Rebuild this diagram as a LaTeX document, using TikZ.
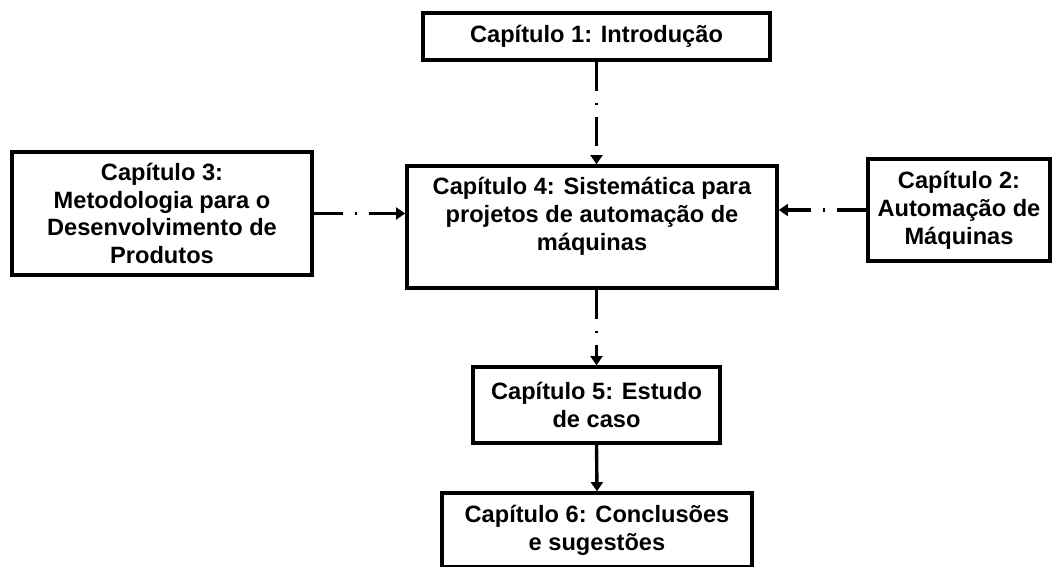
\documentclass[tikz,border=0pt]{standalone}
\usepackage{fontspec}
\setmainfont{Liberation Sans}
\usetikzlibrary{arrows.meta}

\tikzset{
  capbox/.style={draw, line width=2.5pt, align=center, inner sep=0pt,
    font=\bfseries\fontsize{16.8}{19.8}\selectfont},
  captext/.style={align=center, inner sep=0pt,
    font=\bfseries\fontsize{16.8}{19.8}\selectfont},
  dashdot/.style={line width=2.4pt, dash pattern=on 21pt off 8pt on 2pt off 8pt,
    -{Triangle[width=8.5pt,length=6.5pt]}},
  solidarrow/.style={line width=2.4pt, -{Triangle[width=8.5pt,length=6.5pt]}}
}

\begin{document}
\begin{tikzpicture}[x=0.025cm, y=-0.025cm]
    \useasboundingbox (0,0) rectangle (1057,566);
    % chapters
    \node[capbox, minimum width=8.675cm, minimum height=1.175cm] (cap1) at (596.5,36.5) {Capítulo 1: Introdução};
    \node[capbox, minimum width=9.25cm, minimum height=3.05cm] (cap4) at (592,227) {};
    \node[captext] (cap4text) at (592,216) {Capítulo 4: Sistemática para\\projetos de automação de\\máquinas};
    \node[capbox, minimum width=7.5cm, minimum height=3.075cm] (cap3) at (162,213.5) {Capítulo 3:\\Metodologia para o\\Desenvolvimento de\\Produtos};
    \node[capbox, minimum width=4.55cm, minimum height=2.55cm] (cap2) at (959,210) {Capítulo 2:\\Automação de\\Máquinas};
    \node[capbox, minimum width=6.175cm, minimum height=1.9cm] (cap5) at (596.5,405) {Capítulo 5: Estudo\\de caso};
    \node[capbox, minimum width=7.75cm, minimum height=1.85cm] (cap6) at (597,530) {Capítulo 6: Conclusões\\e sugestões};
    % connectors
    \draw[dashdot] (cap1.south) -- (cap1.south |- cap4.north);
    \draw[dashdot] (cap3.east) -- (cap3.east -| cap4.west);
    \draw[dashdot] (cap2.west) -- (cap2.west -| cap4.east);
    \draw[dashdot] (cap5.north |- cap4.south) -- (cap5.north);
    \draw[solidarrow] (cap5.south) -- (cap6.north);
\end{tikzpicture}
\end{document}
